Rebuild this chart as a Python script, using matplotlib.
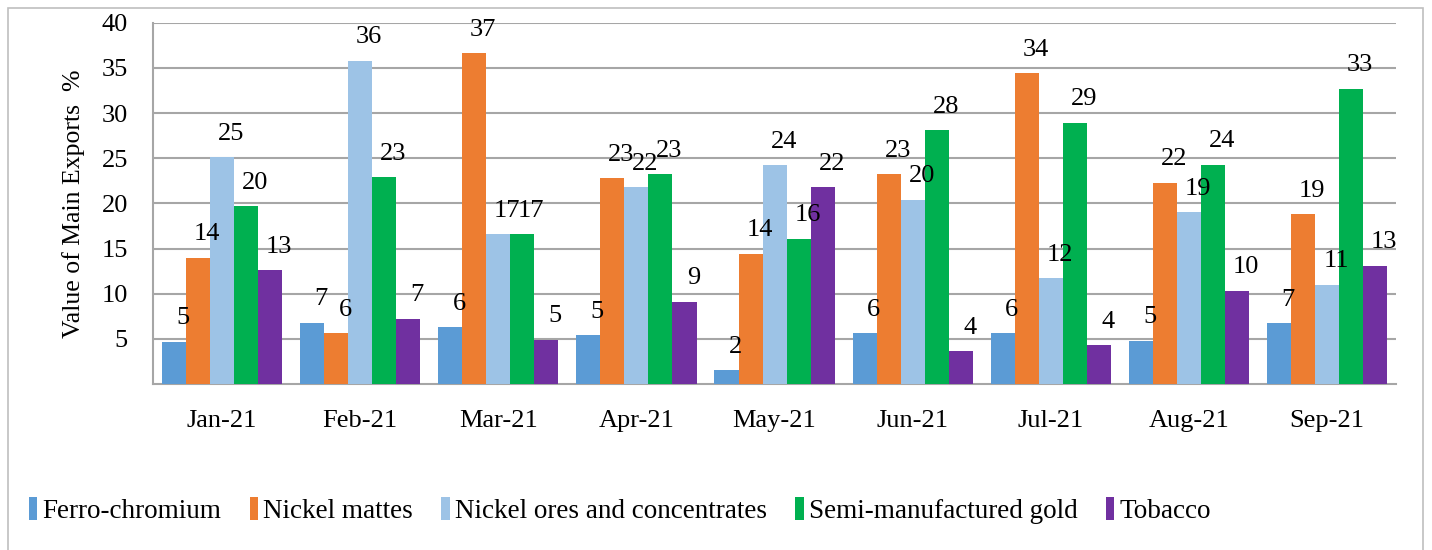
import matplotlib.pyplot as plt
from matplotlib.patches import Rectangle
import numpy as np

plt.rcParams['font.family'] = ['Liberation Serif', 'DejaVu Serif']

months = ["Jan-21", "Feb-21", "Mar-21", "Apr-21", "May-21", "Jun-21", "Jul-21", "Aug-21", "Sep-21"]
series_names = ["Ferro-chromium", "Nickel mattes", "Nickel ores and concentrates",
                "Semi-manufactured gold", "Tobacco"]
ferro_chromium = [4.7, 6.8, 6.3, 5.4, 1.5, 5.6, 5.6, 4.8, 6.7]
nickel_mattes = [14.0, 5.6, 36.6, 22.8, 14.4, 23.2, 34.4, 22.3, 18.8]
nickel_ores = [25.1, 35.8, 16.6, 21.8, 24.2, 20.4, 11.7, 19.0, 11.0]
semi_gold = [19.7, 22.9, 16.6, 23.2, 16.1, 28.1, 28.9, 24.3, 32.7]
tobacco = [12.6, 7.2, 4.9, 9.1, 21.8, 3.6, 4.3, 10.3, 13.1]

colors = ["#5B9BD5", "#ED7D31", "#9DC3E6", "#00B050", "#7030A0"]
all_series = [ferro_chromium, nickel_mattes, nickel_ores, semi_gold, tobacco]

fig = plt.figure(figsize=(14.32, 5.5), dpi=100)
ax = fig.add_axes([0.1068, 0.3018, 0.975 - 0.1068, 0.9587 - 0.3018])

x = np.arange(len(months))
bw = 0.174
for k, (vals, name, c) in enumerate(zip(all_series, series_names, colors)):
    pos = x + (k - 2) * bw
    ax.bar(pos, vals, width=bw, color=c, label=name, zorder=3)
    for p, v in zip(pos, vals):
        ax.annotate(f"{v:.0f}", (p, v), xytext=(6.5, 9), textcoords="offset points",
                    ha="center", va="bottom", fontsize=19, zorder=4)

ax.set_xlim(-0.5, len(months) - 0.5)
ax.set_ylim(0, 40)
ax.set_yticks(range(5, 41, 5))
ax.set_xticks(x)
ax.set_xticklabels(months)
ax.tick_params(axis="both", length=0, labelsize=19)
ax.tick_params(axis="y", pad=18)
ax.tick_params(axis="x", pad=19)
ax.yaxis.grid(True, color="#A6A6A6", lw=1.5, zorder=0)
ax.set_axisbelow(True)
for s in ["top", "right"]:
    ax.spines[s].set_visible(False)
for s in ["left", "bottom"]:
    ax.spines[s].set_color("#A6A6A6")
    ax.spines[s].set_linewidth(1.5)
ax.set_ylabel("Value of Main Exports  %", fontsize=18.5, labelpad=12)

fig.legend(loc="center", bbox_to_anchor=(0.433, 0.072), ncol=5, frameon=False,
           fontsize=19.5, handlelength=0.3, handleheight=0.9, handletextpad=0.2,
           columnspacing=1.05)

fig.patches.append(Rectangle((8 / 1432, -0.1), (1423 - 8) / 1432, 1.1 - 8 / 550,
                             transform=fig.transFigure, fill=False,
                             edgecolor="#BFBFBF", lw=1.2))

fig.savefig("out.png", dpi=100)
